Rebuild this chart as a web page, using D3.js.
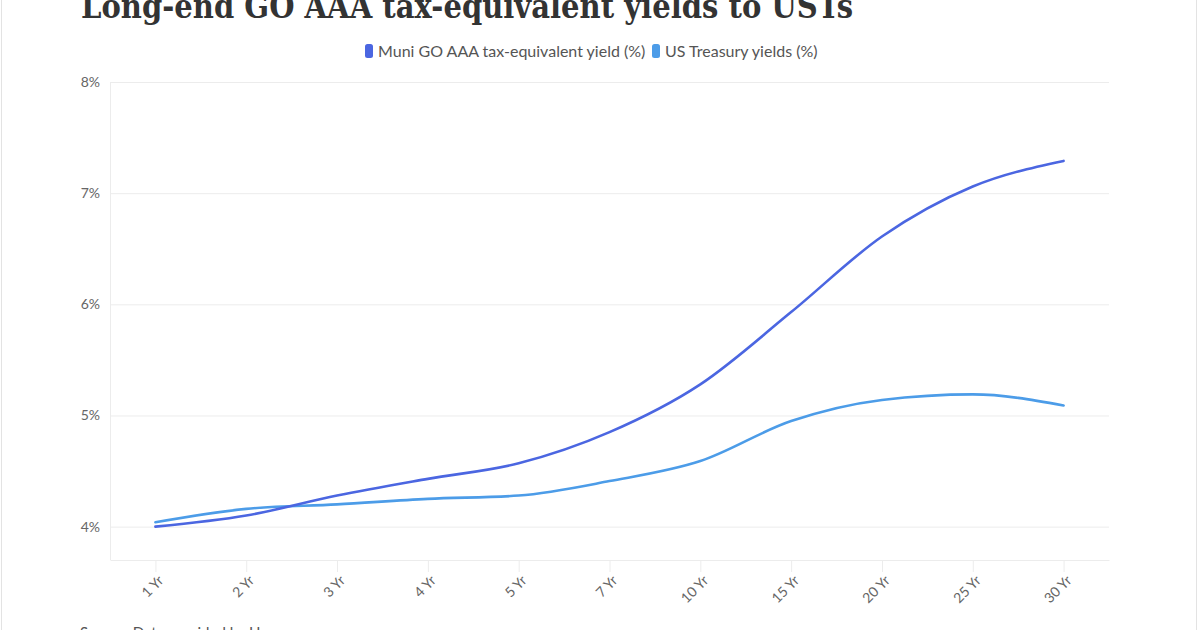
<!DOCTYPE html>
<html>
<head>
<meta charset="utf-8">
<script src="https://cdn.jsdelivr.net/npm/d3@7"></script>
<style>
    body { margin: 0; background: #fff; }
    #chart { width: 1200px; height: 630px; overflow: hidden; }
</style>
</head>
<body>
<div id="chart"></div>
<script>
// Data
var maturities = ["1 Yr", "2 Yr", "3 Yr", "4 Yr", "5 Yr", "7 Yr", "10 Yr", "15 Yr", "20 Yr", "25 Yr", "30 Yr"];
var muniYields = [4.00, 4.10, 4.28, 4.43, 4.57, 4.85, 5.28, 5.93, 6.61, 7.06, 7.29];
var ustYields = [4.04, 4.16, 4.20, 4.25, 4.28, 4.41, 4.59, 4.95, 5.14, 5.19, 5.09];
var yTicks = [4, 5, 6, 7, 8];
var seriesNames = ["Muni GO AAA tax-equivalent yield (%)", "US Treasury yields (%)"];
var seriesColors = ["#4b66e1", "#4c9ce8"];

YieldChart = function(_parentElement){
    vis = this;

    this.parentElement = _parentElement;
    this.svgWidth = 1200;
    this.svgHeight = 630;
    this.margin = { top: 82, right: 91, bottom: 70, left: 110 };
    this.width = vis.svgWidth - vis.margin.left - vis.margin.right;
    this.height = vis.svgHeight - vis.margin.top - vis.margin.bottom;
    this.gridColor = "#ececec";
    this.textColor = "#666";

    this.initVis();
};

YieldChart.prototype.initVis = function() {
    vis = this;

    vis.wrangleData();
    vis.initSVG();
    vis.initAxes();
    vis.updateVis();
};

YieldChart.prototype.wrangleData = function() {
    vis = this;

    vis.series = [muniYields, ustYields].map(function(values, k) {
        return {
            name: seriesNames[k],
            color: seriesColors[k],
            values: values.map(function(v, i) { return { key: maturities[i], value: v }; })
        };
    });
};

YieldChart.prototype.initSVG = function() {
    vis = this;

    vis.root = d3.select("#" + vis.parentElement).append("svg")
        .attr("width", vis.svgWidth)
        .attr("height", vis.svgHeight);

    // card border
    vis.root.append("rect")
        .attr("x", 1.5).attr("y", -10)
        .attr("width", 1195).attr("height", 660)
        .attr("fill", "none")
        .attr("stroke", "#e3e3e3");

    // title is cropped at the top edge, as in the source image
    vis.root.append("text")
        .attr("x", 81).attr("y", 18)
        .attr("font-family", "'DejaVu Serif', serif")
        .attr("font-weight", "bold")
        .attr("font-size", "33px")
        .attr("fill", "#333")
        .attr("textLength", 772)
        .attr("lengthAdjust", "spacingAndGlyphs")
        .text("Long-end GO AAA tax-equivalent yields to USTs");

    vis.root.append("text")
        .attr("x", 80).attr("y", 638)
        .attr("font-family", "Lato, sans-serif")
        .attr("font-size", "15px")
        .attr("fill", "#555")
        .text("Source: Data provided by Haver");

    this.svg = vis.root.append("g")
        .attr("transform", "translate(" + vis.margin.left + "," + vis.margin.top + ")");
};

YieldChart.prototype.initAxes = function() {
    vis = this;

    this.x = d3.scalePoint()
        .domain(maturities)
        .range([0, vis.width])
        .padding(0.5);

    this.y = d3.scaleLinear()
        .domain([3.7, 8])
        .range([vis.height, 0]);

    // horizontal grid + y labels
    this.yAxis = d3.axisLeft(vis.y)
        .tickValues(yTicks)
        .tickSize(-vis.width)
        .tickPadding(10)
        .tickFormat(function(d) { return d + "%"; });

    var yg = vis.svg.append("g")
        .attr("class", "y-axis axis")
        .call(vis.yAxis);
    yg.select(".domain").remove();
    yg.selectAll("line").attr("stroke", vis.gridColor);
    yg.selectAll("text")
        .attr("font-family", "Lato, sans-serif")
        .attr("font-size", "14px")
        .attr("fill", vis.textColor);

    // left border of plot area
    vis.svg.append("line")
        .attr("x1", 0.5).attr("x2", 0.5)
        .attr("y1", 0).attr("y2", vis.height)
        .attr("stroke", vis.gridColor);

    this.xAxis = d3.axisBottom(vis.x)
        .tickSizeInner(12)
        .tickSizeOuter(0);

    var xg = vis.svg.append("g")
        .attr("class", "x-axis axis")
        .attr("transform", "translate(0," + vis.height + ")")
        .call(vis.xAxis);
    xg.select(".domain").attr("stroke", vis.gridColor);
    xg.selectAll("line").attr("stroke", vis.gridColor);
    xg.selectAll("text")
        .attr("x", 0)
        .attr("y", 0)
        .attr("dy", "0.35em")
        .attr("font-family", "Lato, sans-serif")
        .attr("font-size", "14px")
        .attr("fill", vis.textColor)
        .attr("text-anchor", "end")
        .attr("transform", "translate(5,18) rotate(-45)");
};

YieldChart.prototype.updateVis = function() {
    vis = this;

    var line = d3.line()
        .x(function(d) { return vis.x(d.key); })
        .y(function(d) { return vis.y(d.value); })
        .curve(d3.curveMonotoneX);

    vis.svg.append("g").selectAll("path")
        .data(vis.series.slice().reverse())
        .enter()
        .append("path")
        .attr("d", function(d) { return line(d.values); })
        .attr("fill", "none")
        .attr("stroke", function(d) { return d.color; })
        .attr("stroke-width", 2.6)
        .attr("stroke-linecap", "round");

    // Legend
    var legend = vis.root.append("g")
        .attr("transform", "translate(365,44)");

    var offsets = [0, 287];
    var items = legend.selectAll("g")
        .data(vis.series)
        .enter()
        .append("g")
        .attr("transform", function(d, i) { return "translate(" + offsets[i] + ",0)"; });

    items.append("rect")
        .attr("width", 8).attr("height", 14)
        .attr("rx", 2.5)
        .attr("fill", function(d) { return d.color; });

    items.append("text")
        .attr("x", 13).attr("y", 12.5)
        .attr("font-family", "Lato, sans-serif")
        .attr("font-size", "16px")
        .attr("fill", "#555")
        .text(function(d) { return d.name; });
};

new YieldChart("chart");
</script>
</body>
</html>
